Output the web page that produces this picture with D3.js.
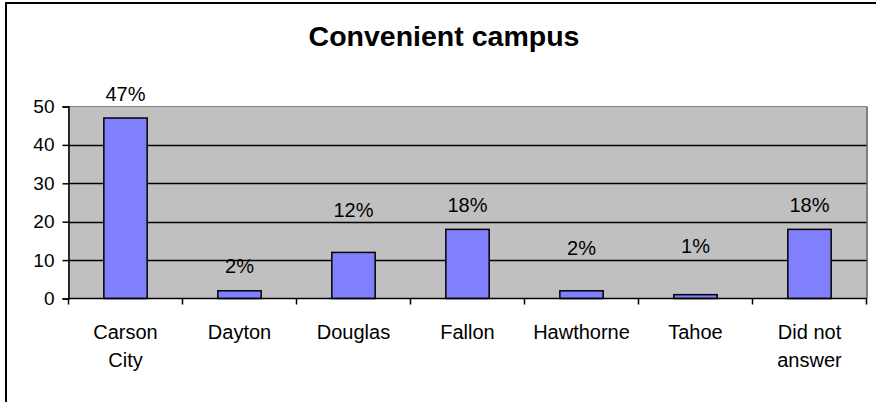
<!DOCTYPE html>
<html>
<head>
<meta charset="utf-8">
<script src="https://cdn.jsdelivr.net/npm/d3@7"></script>
<style>
  html, body { margin: 0; padding: 0; background: #ffffff; }
  svg { display: block; font-family: Arial, "Liberation Sans", sans-serif; }
</style>
</head>
<body>
<svg id="chart" width="876" height="402"></svg>
<script>
// Survey responses: campus considered most convenient
const categories = ["Carson City", "Dayton", "Douglas", "Fallon", "Hawthorne", "Tahoe", "Did not answer"];
const values = [47, 2, 12, 18, 2, 1, 18];
const valueLabels = ["47%", "2%", "12%", "18%", "2%", "1%", "18%"];
const yTicks = [0, 10, 20, 30, 40, 50];
const title = "Convenient campus";

// Layout
const W = 876, H = 402;
const plot = { left: 68.5, right: 866.5, top: 106.5, bottom: 298.5 };
// how far each value label sits above its bar top (px)
const labelLift = [17, 18, 35, 17, 36, 42, 17];

const svg = d3.select("#chart");

// Chart-area border (extends past the right and bottom edges)
svg.append("rect")
  .attr("x", 6).attr("y", 3)
  .attr("width", W + 20).attr("height", H + 20)
  .attr("fill", "#ffffff")
  .attr("stroke", "#000000").attr("stroke-width", 2);

const x = d3.scaleBand()
  .domain(categories)
  .range([plot.left, plot.right])
  .paddingInner(0.62)
  .paddingOuter(0.31);

const y = d3.scaleLinear()
  .domain([0, 50])
  .range([plot.bottom, plot.top]);

// Plot area
svg.append("rect")
  .attr("x", plot.left).attr("y", plot.top)
  .attr("width", plot.right - plot.left)
  .attr("height", plot.bottom - plot.top)
  .attr("fill", "#c0c0c0")
  .attr("stroke", "#808080").attr("stroke-width", 1);
svg.append("line")
  .attr("x1", plot.right + 0.5).attr("x2", plot.right + 0.5)
  .attr("y1", plot.top).attr("y2", plot.bottom)
  .attr("stroke", "#808080").attr("stroke-width", 2);

// Horizontal gridlines
svg.append("g")
  .selectAll("line")
  .data(yTicks.filter(d => d > 0 && d < 50))
  .join("line")
  .attr("x1", plot.left).attr("x2", plot.right)
  .attr("y1", d => Math.round(y(d)) + 0.5)
  .attr("y2", d => Math.round(y(d)) + 0.5)
  .attr("stroke", "#000000").attr("stroke-width", 1.3);

// Bars
svg.append("g")
  .selectAll("rect")
  .data(values)
  .join("rect")
  .attr("x", (d, i) => x(categories[i]))
  .attr("y", d => y(d))
  .attr("width", x.bandwidth())
  .attr("height", d => plot.bottom - y(d))
  .attr("fill", "#8080ff")
  .attr("stroke", "#000000").attr("stroke-width", 1.5);

// Y axis
const yAxis = d3.axisLeft(y)
  .tickValues(yTicks)
  .tickSize(6)
  .tickPadding(8)
  .tickFormat(d3.format("d"));
const gy = svg.append("g")
  .attr("transform", `translate(${plot.left},0)`)
  .call(yAxis);
gy.select(".domain").attr("stroke", "#000").attr("stroke-width", 1.5);
gy.selectAll(".tick line").attr("stroke", "#000").attr("stroke-width", 1.5);
gy.selectAll(".tick text")
  .attr("font-size", 19)
  .attr("font-family", "Arial, 'Liberation Sans', sans-serif")
  .attr("fill", "#000");

// X axis: line plus ticks at the category boundaries
const bounds = categories.map((c, i) => plot.left + i * x.step());
bounds.push(plot.right);
const gx = svg.append("g");
gx.append("line")
  .attr("x1", plot.left).attr("x2", plot.right)
  .attr("y1", plot.bottom).attr("y2", plot.bottom)
  .attr("stroke", "#000").attr("stroke-width", 1.5);
gx.selectAll("line.tick")
  .data(bounds)
  .join("line")
  .attr("class", "tick")
  .attr("x1", d => d).attr("x2", d => d)
  .attr("y1", plot.bottom).attr("y2", plot.bottom + 6)
  .attr("stroke", "#000").attr("stroke-width", 1.5);

// Category labels, wrapped to two lines where needed
const catLines = {
  "Carson City": ["Carson", "City"],
  "Did not answer": ["Did not", "answer"]
};
const catText = svg.append("g")
  .selectAll("text")
  .data(categories)
  .join("text")
  .attr("x", d => x(d) + x.bandwidth() / 2)
  .attr("y", 339)
  .attr("text-anchor", "middle")
  .attr("font-size", 20)
  .attr("fill", "#000");
catText.each(function(d) {
  const lines = catLines[d] || [d];
  const t = d3.select(this);
  lines.forEach((ln, k) => {
    t.append("tspan")
      .attr("x", x(d) + x.bandwidth() / 2)
      .attr("dy", k === 0 ? 0 : 28)
      .text(ln);
  });
});

// Value labels
svg.append("g")
  .selectAll("text")
  .data(values)
  .join("text")
  .attr("x", (d, i) => x(categories[i]) + x.bandwidth() / 2)
  .attr("y", (d, i) => y(d) - labelLift[i])
  .attr("text-anchor", "middle")
  .attr("font-size", 20)
  .attr("fill", "#000")
  .text((d, i) => valueLabels[i]);

// Title
svg.append("text")
  .attr("x", 444)
  .attr("y", 46)
  .attr("text-anchor", "middle")
  .attr("font-size", 28.5)
  .attr("font-weight", "bold")
  .attr("fill", "#000")
  .text(title);
</script>
</body>
</html>
